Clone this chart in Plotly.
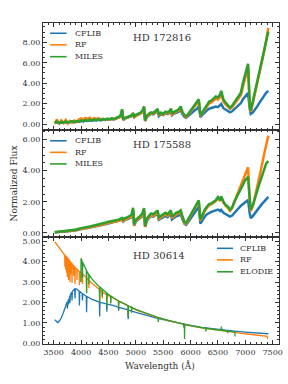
import plotly.graph_objects as go

# ---------------- data ----------------
# shared wavelength grid for HD 172816 / HD 175588 (Angstrom)
wave_m = [3520, 3560, 3600, 3640, 3680, 3720, 3760, 3800, 3840, 3880,
          3920, 3960, 4000, 4040, 4080, 4120, 4160, 4200, 4240, 4280,
          4320, 4360, 4400, 4440, 4480, 4520, 4560, 4600, 4640, 4680,
          4720, 4750, 4770, 4800, 4840, 4880, 4920, 4950, 4970, 5000,
          5040, 5080, 5120, 5150, 5170, 5200, 5240, 5280, 5320, 5360,
          5400, 5420, 5460, 5500, 5540, 5580, 5620, 5640, 5660, 5700,
          5740, 5780, 5820, 5850, 5890, 5920, 5960, 6000, 6040, 6080,
          6120, 6150, 6180, 6220, 6260, 6300, 6340, 6380, 6420, 6460,
          6500, 6540, 6560, 6600, 6640, 6680, 6720, 6760, 6800, 6840,
          6880, 6920, 6960, 7000, 7030, 7050, 7080, 7100, 7140, 7180,
          7220, 7260, 7300, 7340, 7380, 7420]

hd172816_miles = [0.15, 0.25, 0.10, 0.22, 0.15, 0.25, 0.18, 0.22, 0.30, 0.20,
                  0.30, 0.25, 0.35, 0.30, 0.40, 0.34, 0.42, 0.36, 0.45, 0.40,
                  0.46, 0.40, 0.50, 0.45, 0.52, 0.48, 0.56, 0.50, 0.60, 0.65,
                  0.80, 1.45, 0.45, 0.60, 0.66, 0.78, 0.85, 1.05, 0.75, 0.90,
                  1.00, 1.10, 1.30, 1.72, 0.35, 0.80, 1.00, 1.15, 1.08, 1.30,
                  1.48, 0.90, 1.12, 1.00, 1.22, 1.15, 1.30, 1.52, 1.00, 1.20,
                  1.35, 1.42, 1.72, 1.20, 0.85, 0.78, 1.00, 1.30, 1.50, 1.80,
                  2.10, 2.42, 0.85, 1.20, 1.60, 1.90, 2.20, 2.30, 2.50, 2.70,
                  2.60, 2.90, 3.25, 2.40, 2.10, 1.80, 1.60, 1.80, 2.20, 2.45,
                  2.75, 3.10, 4.10, 5.00, 5.40, 5.90, 2.00, 1.30, 2.30, 3.30,
                  4.30, 5.30, 6.30, 7.20, 8.30, 9.05]
hd172816_rf = [0.05, 0.45, 0.00, 0.35, 0.10, 0.40, 0.05, 0.30, 0.15, 0.35,
               0.20, 0.45, 0.55, 0.40, 0.60, 0.50, 0.62, 0.45, 0.58, 0.50,
               0.55, 0.45, 0.52, 0.42, 0.50, 0.45, 0.52, 0.46, 0.55, 0.60,
               0.72, 1.35, 0.40, 0.55, 0.60, 0.72, 0.80, 0.98, 0.68, 0.82,
               0.92, 1.02, 1.20, 1.60, 0.30, 0.72, 0.92, 1.05, 1.00, 1.20,
               1.38, 0.82, 1.02, 0.92, 1.12, 1.05, 1.20, 1.40, 0.92, 1.10,
               1.25, 1.32, 1.58, 1.10, 0.78, 0.70, 0.92, 1.20, 1.40, 1.68,
               1.95, 2.25, 0.78, 1.10, 1.48, 1.75, 2.02, 2.12, 2.30, 2.48,
               2.40, 2.65, 2.95, 2.20, 1.92, 1.65, 1.48, 1.65, 2.00, 2.25,
               2.52, 2.85, 3.75, 4.60, 5.00, 5.50, 1.85, 1.20, 2.10, 3.05,
               4.00, 5.00, 6.00, 7.00, 8.20, 9.40]
hd172816_cflib = [0.10, 0.18, 0.08, 0.15, 0.12, 0.18, 0.14, 0.18, 0.22, 0.18,
                  0.25, 0.22, 0.30, 0.26, 0.34, 0.30, 0.36, 0.32, 0.40, 0.36,
                  0.42, 0.36, 0.45, 0.40, 0.48, 0.44, 0.50, 0.46, 0.54, 0.58,
                  0.70, 1.30, 0.40, 0.54, 0.60, 0.70, 0.76, 0.95, 0.68, 0.80,
                  0.90, 0.98, 1.15, 1.55, 0.30, 0.70, 0.88, 1.00, 0.95, 1.12,
                  1.28, 0.78, 0.96, 0.88, 1.05, 0.98, 1.12, 1.30, 0.85, 1.02,
                  1.12, 1.18, 1.40, 0.98, 0.70, 0.62, 0.80, 1.02, 1.18, 1.35,
                  1.50, 1.75, 0.68, 0.92, 1.15, 1.35, 1.50, 1.55, 1.62, 1.72,
                  1.65, 1.80, 1.95, 1.55, 1.40, 1.25, 1.15, 1.25, 1.45, 1.60,
                  1.78, 2.05, 2.45, 2.70, 2.85, 3.02, 1.50, 1.00, 1.15, 1.40,
                  1.75, 2.10, 2.45, 2.75, 3.05, 3.25]

hd175588_miles = [0.05, 0.07, 0.08, 0.10, 0.10, 0.12, 0.14, 0.15, 0.18, 0.20,
                  0.22, 0.28, 0.30, 0.33, 0.38, 0.36, 0.42, 0.45, 0.48, 0.50,
                  0.55, 0.55, 0.62, 0.65, 0.70, 0.72, 0.75, 0.78, 0.82, 0.85,
                  0.90, 0.95, 0.85, 0.95, 1.00, 1.05, 1.15, 1.62, 0.55, 0.85,
                  0.95, 1.10, 1.25, 1.60, 0.45, 0.90, 1.10, 1.25, 1.20, 1.35,
                  1.45, 1.00, 1.10, 1.15, 1.30, 1.20, 1.35, 1.45, 1.05, 1.20,
                  1.30, 1.35, 1.45, 1.10, 0.70, 0.65, 0.90, 1.20, 1.45, 1.70,
                  1.95, 2.10, 0.85, 1.20, 1.50, 1.70, 1.85, 1.90, 2.00, 2.10,
                  2.30, 2.10, 2.35, 2.00, 1.80, 1.70, 1.50, 1.65, 2.00, 2.30,
                  2.60, 2.90, 3.20, 3.40, 3.50, 3.62, 2.20, 1.50, 1.80, 2.30,
                  2.80, 3.20, 3.60, 4.00, 4.45, 4.62]
hd175588_rf = [0.04, 0.06, 0.07, 0.08, 0.09, 0.10, 0.12, 0.13, 0.15, 0.17,
               0.19, 0.24, 0.26, 0.29, 0.33, 0.31, 0.37, 0.40, 0.43, 0.45,
               0.49, 0.49, 0.56, 0.58, 0.63, 0.65, 0.68, 0.70, 0.74, 0.77,
               0.82, 0.87, 0.76, 0.86, 0.90, 0.95, 1.04, 1.48, 0.48, 0.76,
               0.86, 1.00, 1.14, 1.48, 0.40, 0.82, 1.00, 1.14, 1.10, 1.24,
               1.33, 0.90, 1.00, 1.05, 1.20, 1.10, 1.24, 1.34, 0.95, 1.10,
               1.20, 1.25, 1.35, 1.00, 0.62, 0.58, 0.82, 1.12, 1.36, 1.62,
               1.88, 2.05, 0.78, 1.12, 1.42, 1.62, 1.78, 1.85, 1.95, 2.05,
               2.25, 2.05, 2.30, 1.95, 1.75, 1.62, 1.42, 1.60, 2.00, 2.35,
               2.75, 3.10, 3.50, 3.80, 4.00, 4.22, 2.10, 1.40, 1.75, 2.35,
               3.00, 3.60, 4.30, 5.00, 5.70, 6.25]
hd175588_cflib = [0.04, 0.06, 0.07, 0.08, 0.09, 0.10, 0.11, 0.12, 0.14, 0.16,
                  0.18, 0.22, 0.24, 0.27, 0.31, 0.30, 0.35, 0.38, 0.41, 0.43,
                  0.47, 0.47, 0.53, 0.56, 0.60, 0.62, 0.65, 0.68, 0.72, 0.75,
                  0.80, 0.85, 0.74, 0.84, 0.88, 0.92, 1.00, 1.42, 0.45, 0.74,
                  0.83, 0.95, 1.08, 1.42, 0.38, 0.78, 0.95, 1.08, 1.04, 1.16,
                  1.25, 0.85, 0.94, 0.98, 1.10, 1.02, 1.14, 1.25, 0.88, 1.00,
                  1.08, 1.12, 1.22, 0.90, 0.58, 0.52, 0.72, 0.95, 1.15, 1.35,
                  1.55, 1.68, 0.60, 0.85, 1.05, 1.20, 1.30, 1.35, 1.40, 1.45,
                  1.50, 1.40, 1.48, 1.30, 1.22, 1.15, 1.05, 1.12, 1.30, 1.45,
                  1.60, 1.75, 1.88, 2.00, 2.05, 2.12, 1.25, 0.95, 1.10, 1.30,
                  1.50, 1.70, 1.85, 2.00, 2.20, 2.32]

# HD 30614
hd30614_cflib_wave = [3520, 3550, 3576, 3600, 3640, 3680, 3720, 3744, 3750, 3756,
                      3765, 3771, 3777, 3792, 3798, 3804, 3829, 3835, 3841, 3883,
                      3889, 3895, 3920, 3964, 3970, 3976, 4020, 4026, 4032, 4095,
                      4101, 4107, 4200, 4300, 4334, 4340, 4346, 4465, 4471, 4477,
                      4600, 4680, 4686, 4692, 4855, 4861, 4867, 5000, 5200, 5400,
                      5600, 5800, 6000, 6200, 6400, 6600, 6800, 7000, 7200, 7420]
hd30614_cflib = [1.15, 1.07, 1.02, 1.08, 1.25, 1.52, 1.85, 2.02, 1.70, 2.07,
                 2.15, 1.90, 2.22, 2.32, 1.98, 2.38, 2.50, 2.10, 2.54, 2.67,
                 2.20, 2.67, 2.65, 2.56, 1.85, 2.54, 2.45, 2.10, 2.43, 2.30,
                 1.52, 2.29, 2.15, 2.05, 2.02, 1.32, 2.01, 1.93, 1.55, 1.92,
                 1.84, 1.77, 1.60, 1.76, 1.64, 1.18, 1.63, 1.52, 1.36, 1.22,
                 1.10, 0.98, 0.88, 0.78, 0.71, 0.65, 0.60, 0.55, 0.51, 0.47]

hd30614_rf_wave = [3520, 3560, 3600, 3640, 3680, 3701, 3705, 3709, 3716, 3720,
                   3724, 3731, 3735, 3739, 3746, 3750, 3754, 3767, 3771, 3775,
                   3794, 3798, 3802, 3816, 3820, 3824, 3831, 3835, 3839, 3863,
                   3867, 3871, 3885, 3889, 3893, 3922, 3926, 3930, 3966, 3970,
                   3974, 4005, 4009, 4013, 4022, 4026, 4030, 4097, 4101, 4105,
                   4140, 4144, 4148, 4200, 4300, 4336, 4340, 4344, 4384, 4388,
                   4392, 4467, 4471, 4475, 4538, 4542, 4546, 4600, 4650, 4682,
                   4686, 4690, 4800, 4857, 4861, 4865, 5000, 5200, 5400, 5600,
                   5800, 6000, 6200, 6400, 6600, 6800, 7000, 7200, 7400, 7410]
hd30614_rf = [4.97, 4.82, 4.66, 4.52, 4.38, 4.31, 3.75, 4.30, 4.28, 3.60,
              4.26, 4.25, 3.45, 4.23, 4.20, 3.25, 4.18, 4.13, 3.10, 4.11,
              4.02, 3.00, 4.00, 3.95, 3.40, 3.93, 3.90, 2.95, 3.88, 3.80,
              3.30, 3.78, 3.73, 2.90, 3.71, 3.63, 3.10, 3.61, 3.52, 2.85,
              3.51, 3.45, 3.00, 3.43, 3.41, 2.90, 3.39, 3.22, 2.50, 3.20,
              3.10, 2.70, 3.08, 2.94, 2.70, 2.63, 2.05, 2.62, 2.52, 2.20,
              2.50, 2.38, 2.00, 2.37, 2.28, 2.00, 2.27, 2.20, 2.14, 2.08,
              1.85, 2.07, 1.92, 1.84, 1.45, 1.83, 1.64, 1.44, 1.26, 1.11,
              0.98, 0.86, 0.76, 0.68, 0.61, 0.54, 0.47, 0.41, 0.35, 0.22]

hd30614_elodie_wave = [3996, 4000, 4022, 4026, 4030, 4097, 4101, 4105, 4140, 4144,
                       4148, 4200, 4250, 4300, 4336, 4340, 4344, 4384, 4388, 4392,
                       4467, 4471, 4475, 4538, 4542, 4546, 4600, 4682, 4686, 4690,
                       4800, 4857, 4861, 4865, 4918, 4922, 4926, 5000, 5200, 5407,
                       5411, 5415, 5600, 5800, 5872, 5876, 5880, 5886, 5890, 5894,
                       6000, 6200, 6276, 6280, 6284, 6400, 6555, 6563, 6571, 6674,
                       6678, 6682, 6808, 6812]
hd30614_elodie = [3.00, 4.16, 4.00, 3.20, 3.97, 3.58, 2.45, 3.54, 3.37, 2.90,
                  3.35, 3.15, 2.98, 2.85, 2.77, 2.00, 2.76, 2.66, 2.30, 2.65,
                  2.46, 1.80, 2.45, 2.33, 1.95, 2.32, 2.22, 2.07, 1.68, 2.06,
                  1.92, 1.84, 1.25, 1.83, 1.77, 1.50, 1.76, 1.66, 1.45, 1.27,
                  1.05, 1.26, 1.12, 0.98, 0.94, 0.78, 0.94, 0.93, 0.22, 0.92,
                  0.87, 0.77, 0.74, 0.58, 0.74, 0.69, 0.64, 0.82, 0.63, 0.60,
                  0.50, 0.60, 0.56, 0.34]

x_ticks = [3500, 4000, 4500, 5000, 5500, 6000, 6500, 7000, 7500]

BLUE, ORANGE, GREEN = "#1f77b4", "#ff7f0e", "#2ca02c"
FONT = "DejaVu Serif"
AXC = "#333333"
TXT = "#333333"

fig = go.Figure()

def add(x, y, color, ax, width):
    fig.add_trace(go.Scatter(x=x, y=y, mode="lines",
                             line=dict(color=color, width=width),
                             xaxis=ax[0], yaxis=ax[1], showlegend=False,
                             hoverinfo="skip"))

# top panel
add(wave_m, hd172816_cflib, BLUE, ("x3", "y3"), 2.5)
add(wave_m, hd172816_rf, ORANGE, ("x3", "y3"), 2.5)
add(wave_m, hd172816_miles, GREEN, ("x3", "y3"), 2.5)
# middle panel
add(wave_m, hd175588_cflib, BLUE, ("x2", "y2"), 2.5)
add(wave_m, hd175588_rf, ORANGE, ("x2", "y2"), 2.5)
add(wave_m, hd175588_miles, GREEN, ("x2", "y2"), 2.5)
# bottom panel
add(hd30614_cflib_wave, hd30614_cflib, BLUE, ("x", "y"), 1.3)
add(hd30614_rf_wave, hd30614_rf, ORANGE, ("x", "y"), 1.3)
add(hd30614_elodie_wave, hd30614_elodie, GREEN, ("x", "y"), 1.3)

common = dict(showline=True, linecolor=AXC, linewidth=1, mirror="allticks",
              ticks="inside", ticklen=4, tickwidth=1, tickcolor=AXC,
              showgrid=False, zeroline=False, automargin=False,
              tickfont=dict(family=FONT, size=8, color=TXT))

xr = [3305, 7615]
xcommon = dict(common, range=xr, tickvals=x_ticks,
               minor=dict(dtick=100, tick0=3500, ticks="inside", ticklen=2,
                          tickwidth=0.8, tickcolor=AXC))

fig.update_layout(
    template="none",
    width=288, height=384,
    margin=dict(l=43, r=9, t=23, b=40, autoexpand=False),
    paper_bgcolor="white", plot_bgcolor="white",
    font=dict(family=FONT, size=8, color=TXT),
    showlegend=False,
    xaxis=dict(xcommon, anchor="y", showticklabels=True),
    xaxis2=dict(xcommon, anchor="y2", matches="x", showticklabels=False),
    xaxis3=dict(xcommon, anchor="y3", matches="x", showticklabels=False),
    yaxis=dict(common, domain=[0, 1/3], range=[-0.03, 5.2], dtick=1, tick0=0,
               tickformat=".2f",
               minor=dict(dtick=0.2, tick0=0, ticks="inside", ticklen=2,
                          tickwidth=0.8, tickcolor=AXC)),
    yaxis2=dict(common, domain=[1/3, 2/3], range=[-0.26, 6.61], dtick=2, tick0=0,
                tickformat=".2f",
                minor=dict(dtick=0.5, tick0=0, ticks="inside", ticklen=2,
                           tickwidth=0.8, tickcolor=AXC)),
    yaxis3=dict(common, domain=[2/3, 1], range=[-0.58, 9.88], dtick=2, tick0=0,
                tickformat=".2f",
                minor=dict(dtick=0.5, tick0=0, ticks="inside", ticklen=2,
                           tickwidth=0.8, tickcolor=AXC)),
)

ann = []
shapes = []
# star names
for txt, px, py in [("HD 172816", 0.504, 0.956), ("HD 175588", 0.504, 0.62),
                    ("HD 30614", 0.49, 0.277)]:
    ann.append(dict(text=txt, x=px, y=py, xref="paper", yref="paper",
                    showarrow=False, font=dict(family=FONT, size=10, color=TXT),
                    xanchor="center", yanchor="middle"))

# legends (drawn manually for compact spacing)
def legend(labels, colors, x0, x1, xt, ys):
    for lab, col, yy in zip(labels, colors, ys):
        shapes.append(dict(type="line", xref="paper", yref="paper",
                           x0=x0, x1=x1, y0=yy, y1=yy,
                           line=dict(color=col, width=1.6)))
        ann.append(dict(text=lab, x=xt, y=yy, xref="paper", yref="paper",
                        showarrow=False, xanchor="left", yanchor="middle",
                        font=dict(family=FONT, size=8, color=TXT)))

legend(["CFLIB", "RF", "MILES"], [BLUE, ORANGE, GREEN], 0.03, 0.10, 0.125,
       [0.968, 0.932, 0.895])
legend(["CFLIB", "RF", "MILES"], [BLUE, ORANGE, GREEN], 0.03, 0.10, 0.125,
       [0.633, 0.597, 0.561])
legend(["CFLIB", "RF", "ELODIE"], [BLUE, ORANGE, GREEN], 0.737, 0.805, 0.826,
       [0.298, 0.262, 0.225])

# axis titles
ann.append(dict(text="Normalized Flux", x=-0.123, y=0.5, xref="paper", yref="paper",
                showarrow=False, textangle=-90, xanchor="center", yanchor="middle",
                font=dict(family=FONT, size=9, color=TXT)))
ann.append(dict(text="Wavelength (Å)", x=0.496, y=-0.067, xref="paper", yref="paper",
                showarrow=False, xanchor="center", yanchor="middle",
                font=dict(family=FONT, size=9, color=TXT)))

fig.update_layout(annotations=ann, shapes=shapes)
# remove the browser's default 8px body margin so the figure sits at the page origin
fig.write_html("out.html", config={"displayModeBar": False},
               post_script="document.body.style.margin='0';")
